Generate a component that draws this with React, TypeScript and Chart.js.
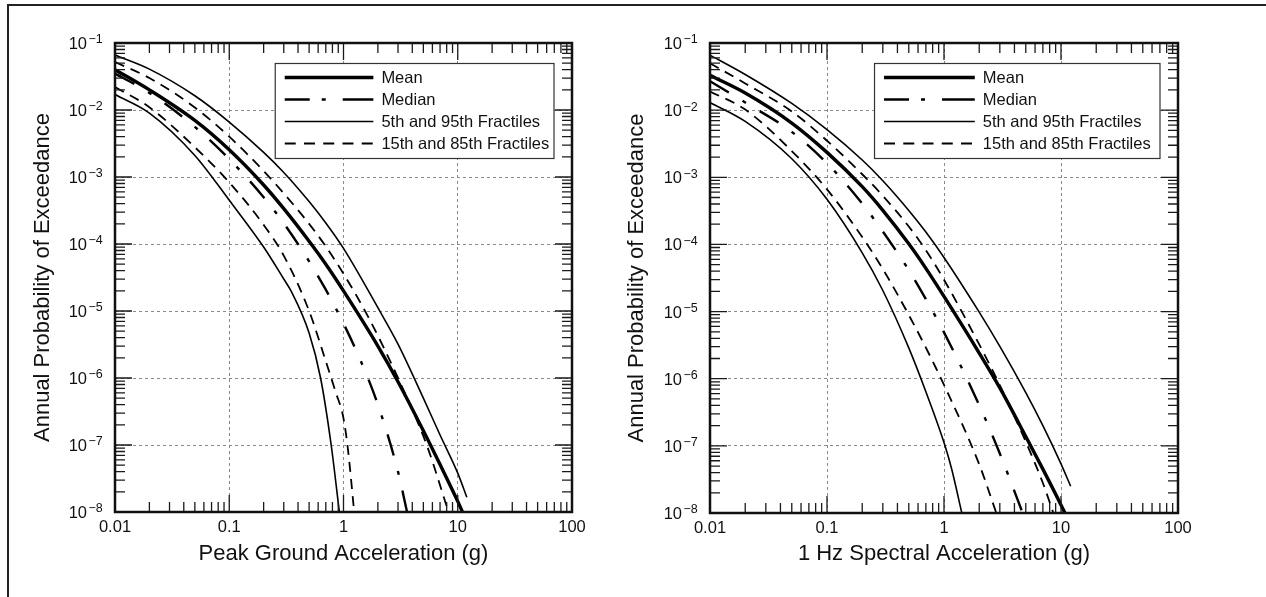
import React, { useEffect, useRef } from 'react';
import { Chart, registerables } from 'chart.js';

Chart.register(...registerables);

const FONT = '"Liberation Sans", Arial, Helvetica, sans-serif';

// ---- axes ----
const xTickValues = [0.01, 0.1, 1, 10, 100];
const xTickLabels = ['0.01', '0.1', '1', '10', '100'];
const yTickValues = [1e-8, 1e-7, 1e-6, 1e-5, 1e-4, 1e-3, 1e-2, 1e-1];
const yTickExponents = ['−8', '−7', '−6', '−5', '−4', '−3', '−2', '−1'];
const minorMultipliers = [2, 3, 4, 5, 6, 7, 8, 9];

const legendLabels = ['Mean', 'Median', '5th and 95th Fractiles', '15th and 85th Fractiles'];
const yAxisTitle = 'Annual Probability of Exceedance';
const leftXAxisTitle = 'Peak Ground Acceleration (g)';
const rightXAxisTitle = '1 Hz Spectral Acceleration (g)';

// ---- left panel: Peak Ground Acceleration ----
const pgaMeanX = [0.01, 0.02, 0.05, 0.1, 0.2, 0.3, 0.5, 0.7, 1, 2, 3, 5, 7, 10, 11];
const pgaMeanY = [4.0e-2, 2.0e-2, 7.0e-3, 2.55e-3, 7.6e-4, 3.37e-4, 1.1e-4, 5.0e-5, 2.0e-5, 3.0e-6, 8.8e-7, 1.63e-7, 5.1e-8, 1.44e-8, 1.0e-8];
const pgaMedianX = [0.01, 0.02, 0.05, 0.1, 0.2, 0.3, 0.5, 0.7, 1, 1.41, 2, 3, 3.6];
const pgaMedianY = [3.5e-2, 1.8e-2, 5.6e-3, 1.85e-3, 5.0e-4, 2.04e-4, 5.5e-5, 2.08e-5, 6.5e-6, 1.83e-6, 4.0e-7, 4.0e-8, 1.0e-8];
const pga95X = [0.01, 0.02, 0.05, 0.1, 0.2, 0.3, 0.5, 0.7, 1, 2, 3, 5, 7, 10, 12];
const pga95Y = [6.6e-2, 4.07e-2, 1.63e-2, 6.6e-3, 2.33e-3, 1.17e-3, 4.3e-4, 2.06e-4, 8.6e-5, 1.12e-5, 3.2e-6, 5.0e-7, 1.41e-7, 3.8e-8, 1.66e-8];
const pga85X = [0.01, 0.02, 0.05, 0.1, 0.2, 0.3, 0.5, 0.7, 1, 1.65, 3.0, 5.35, 8.3];
const pga85Y = [5.2e-2, 3.0e-2, 1.09e-2, 4.0e-3, 1.23e-3, 5.7e-4, 2.0e-4, 9.2e-5, 3.6e-5, 8.1e-6, 1.0e-6, 1.0e-7, 1.0e-8];
const pga15X = [0.01, 0.02, 0.05, 0.1, 0.2, 0.3, 0.5, 0.7, 0.85, 1, 1.1, 1.24];
const pga15Y = [2.2e-2, 1.1e-2, 2.78e-3, 8.3e-4, 1.93e-4, 6.7e-5, 1.0e-5, 1.78e-6, 6.3e-7, 2.5e-7, 7.9e-8, 1.0e-8];
const pga5X = [0.01, 0.02, 0.05, 0.1, 0.2, 0.3, 0.35, 0.5, 0.63, 0.78, 0.92];
const pga5Y = [1.7e-2, 9.0e-3, 2.1e-3, 4.5e-4, 9.0e-5, 3.0e-5, 1.95e-5, 4.7e-6, 1.0e-6, 1.0e-7, 1.0e-8];

// ---- right panel: 1 Hz Spectral Acceleration ----
const sa1MeanX = [0.01, 0.02, 0.05, 0.1, 0.2, 0.3, 0.5, 0.7, 1, 2, 3, 5, 7, 10, 10.8];
const sa1MeanY = [3.3e-2, 1.8e-2, 6.43e-3, 2.35e-3, 7.24e-4, 3.22e-4, 1.02e-4, 4.4e-5, 1.68e-5, 2.41e-6, 7.3e-7, 1.38e-7, 4.5e-8, 1.32e-8, 1.0e-8];
const sa1MedianX = [0.01, 0.02, 0.05, 0.1, 0.2, 0.3, 0.5, 0.7, 1, 2, 3, 4.7];
const sa1MedianY = [2.7e-2, 1.3e-2, 4.75e-3, 1.62e-3, 4.06e-4, 1.56e-4, 4.14e-5, 1.53e-5, 4.9e-6, 4.04e-7, 7.7e-8, 1.0e-8];
const sa195X = [0.01, 0.02, 0.05, 0.1, 0.2, 0.3, 0.5, 0.7, 1, 2, 3, 5, 7, 10, 12.1];
const sa195Y = [6.6e-2, 3.4e-2, 1.26e-2, 5.13e-3, 1.81e-3, 8.9e-4, 3.21e-4, 1.53e-4, 6.4e-5, 9.8e-6, 3.03e-6, 6.2e-7, 2.0e-7, 5.4e-8, 2.5e-8];
const sa185X = [0.01, 0.02, 0.05, 0.1, 0.2, 0.3, 0.5, 0.7, 1, 2, 3, 5, 7, 8.6];
const sa185Y = [5.0e-2, 2.5e-2, 9.55e-3, 3.5e-3, 1.11e-3, 5.3e-4, 1.85e-4, 8.2e-5, 2.98e-5, 3.24e-6, 8.0e-7, 1.15e-7, 2.8e-8, 1.0e-8];
const sa115X = [0.01, 0.02, 0.05, 0.1, 0.2, 0.3, 0.5, 0.7, 1, 2, 2.8];
const sa115Y = [1.9e-2, 1.02e-2, 2.46e-3, 6.6e-4, 1.29e-4, 4.3e-5, 8.9e-6, 2.9e-6, 8.1e-7, 5.3e-8, 1.0e-8];
const sa15X = [0.01, 0.02, 0.05, 0.1, 0.2, 0.3, 0.5, 0.7, 1, 1.16, 1.42];
const sa15Y = [1.3e-2, 6.8e-3, 1.89e-3, 4.7e-4, 7.5e-5, 2.06e-5, 2.88e-6, 6.4e-7, 1.12e-7, 4.6e-8, 1.0e-8];

// ---- styles ----
type StyleKey = 'mean' | 'median' | 'frac595' | 'frac1585';
const lineStyles: Record<StyleKey, { width: number; dash: number[] }> = {
  mean: { width: 3.4, dash: [] },
  median: { width: 2.4, dash: [22, 16, 4, 16] },
  frac595: { width: 1.6, dash: [] },
  frac1585: { width: 1.8, dash: [10, 7] },
};
const legendStyleKeys: StyleKey[] = ['mean', 'median', 'frac595', 'frac1585'];
const legendDashOverride: Partial<Record<StyleKey, number[]>> = {
  median: [25, 12, 4, 17, 60, 10],
  frac1585: [11, 8.25],
};

type Series = { x: number[]; y: number[]; style: StyleKey };

const leftSeries: Series[] = [
  { x: pga95X, y: pga95Y, style: 'frac595' },
  { x: pga5X, y: pga5Y, style: 'frac595' },
  { x: pga85X, y: pga85Y, style: 'frac1585' },
  { x: pga15X, y: pga15Y, style: 'frac1585' },
  { x: pgaMedianX, y: pgaMedianY, style: 'median' },
  { x: pgaMeanX, y: pgaMeanY, style: 'mean' },
];
const rightSeries: Series[] = [
  { x: sa195X, y: sa195Y, style: 'frac595' },
  { x: sa15X, y: sa15Y, style: 'frac595' },
  { x: sa185X, y: sa185Y, style: 'frac1585' },
  { x: sa115X, y: sa115Y, style: 'frac1585' },
  { x: sa1MedianX, y: sa1MedianY, style: 'median' },
  { x: sa1MeanX, y: sa1MeanY, style: 'mean' },
];

type PanelLayout = {
  canvasLeft: number;
  canvasWidth: number;
  yAxisWidth: number;
  padRight: number;
  padTop: number;
  xAxisHeight: number;
  yTitlePad: number;
};

const CANVAS_H = 597;
const INK = '#111';

const framePlugin = {
  id: 'frameTicks',
  afterDatasetsDraw(chart: any) {
    const { ctx, chartArea: a, scales } = chart;
    const xs = scales.x;
    const ys = scales.y;
    const majorLen = 17;
    const minorLen = 10;
    ctx.save();
    ctx.setLineDash([]);
    ctx.strokeStyle = '#1a1a1a';
    ctx.lineWidth = 1.3;
    ctx.beginPath();
    xTickValues.forEach((d, i) => {
      const px = xs.getPixelForValue(d);
      ctx.moveTo(px, a.bottom);
      ctx.lineTo(px, a.bottom - majorLen);
      ctx.moveTo(px, a.top);
      ctx.lineTo(px, a.top + majorLen);
      if (i < xTickValues.length - 1) {
        minorMultipliers.forEach((m) => {
          const p = xs.getPixelForValue(d * m);
          ctx.moveTo(p, a.bottom);
          ctx.lineTo(p, a.bottom - minorLen);
          ctx.moveTo(p, a.top);
          ctx.lineTo(p, a.top + minorLen);
        });
      }
    });
    yTickValues.forEach((d, i) => {
      const py = ys.getPixelForValue(d);
      ctx.moveTo(a.left, py);
      ctx.lineTo(a.left + majorLen, py);
      ctx.moveTo(a.right, py);
      ctx.lineTo(a.right - majorLen, py);
      if (i < yTickValues.length - 1) {
        minorMultipliers.forEach((m) => {
          const p = ys.getPixelForValue(d * m);
          ctx.moveTo(a.left, p);
          ctx.lineTo(a.left + minorLen, p);
          ctx.moveTo(a.right, p);
          ctx.lineTo(a.right - minorLen, p);
        });
      }
    });
    ctx.stroke();
    ctx.restore();
  },
  afterDraw(chart: any) {
    const { ctx, chartArea: a, scales } = chart;
    const ys = scales.y;
    ctx.save();
    ctx.setLineDash([]);
    ctx.strokeStyle = INK;
    ctx.lineWidth = 2.5;
    ctx.strokeRect(a.left, a.top, a.right - a.left, a.bottom - a.top);

    // legend box
    const w = (a.right - a.left) * 0.61;
    const h = 95;
    const x0 = a.right - 18 - w;
    const y0 = a.top + 20.5;
    ctx.fillStyle = '#ffffff';
    ctx.fillRect(x0, y0, w, h);
    ctx.strokeStyle = '#333';
    ctx.lineWidth = 1.2;
    ctx.strokeRect(x0, y0, w, h);
    const sampleStart = x0 + 9.5;
    const sampleLen = w * 0.318;
    legendLabels.forEach((label, i) => {
      const key = legendStyleKeys[i];
      const st = lineStyles[key];
      const ry = y0 + 14 + i * 22;
      ctx.beginPath();
      ctx.setLineDash(legendDashOverride[key] || st.dash);
      ctx.lineWidth = st.width;
      ctx.strokeStyle = '#000';
      ctx.moveTo(sampleStart, ry);
      ctx.lineTo(sampleStart + sampleLen, ry);
      ctx.stroke();
      ctx.setLineDash([]);
      ctx.fillStyle = INK;
      ctx.font = `16.5px ${FONT}`;
      ctx.textAlign = 'left';
      ctx.textBaseline = 'middle';
      ctx.fillText(label, sampleStart + sampleLen + 8, ry + 1);
    });

    // y tick labels: 10 with superscript exponent
    yTickValues.forEach((v, i) => {
      const py = ys.getPixelForValue(v);
      const xr = a.left - 28;
      ctx.fillStyle = INK;
      ctx.font = `16.5px ${FONT}`;
      ctx.textAlign = 'right';
      ctx.textBaseline = 'middle';
      ctx.fillText('10', xr, py + 1.5);
      ctx.font = `12.5px ${FONT}`;
      ctx.textAlign = 'left';
      ctx.fillText(yTickExponents[i], xr + 1.5, py - 3);
    });
    ctx.restore();
  },
};

function Panel({ series, xTitle, layout }: { series: Series[]; xTitle: string; layout: PanelLayout }) {
  const ref = useRef<HTMLCanvasElement | null>(null);
  useEffect(() => {
    if (!ref.current) return;
    const datasets = series.map((s) => ({
      data: s.x.map((x, i) => ({ x, y: s.y[i] })),
      borderColor: '#000',
      backgroundColor: '#000',
      borderWidth: lineStyles[s.style].width,
      borderDash: lineStyles[s.style].dash,
      pointRadius: 0,
      pointHoverRadius: 0,
      fill: false,
      cubicInterpolationMode: 'monotone',
    }));
    const chart = new Chart(ref.current, {
      type: 'line',
      data: { datasets },
      options: {
        animation: false,
        responsive: false,
        maintainAspectRatio: false,
        devicePixelRatio: 1,
        events: [],
        layout: { padding: { left: 0, top: layout.padTop, right: layout.padRight, bottom: 0 } },
        plugins: { legend: { display: false }, tooltip: { enabled: false }, title: { display: false } },
        scales: {
          x: {
            type: 'logarithmic',
            position: 'bottom',
            min: 0.01,
            max: 100,
            afterBuildTicks: (scale: any) => {
              scale.ticks = xTickValues.map((value) => ({ value }));
            },
            afterFit: (scale: any) => {
              scale.height = layout.xAxisHeight;
            },
            ticks: {
              autoSkip: false,
              maxRotation: 0,
              padding: 6,
              color: INK,
              font: { family: FONT, size: 16.5 },
              callback: (value: any) => {
                const idx = xTickValues.indexOf(Number(value));
                return idx >= 0 ? xTickLabels[idx] : '';
              },
            },
            grid: { color: '#8a8a8a', lineWidth: 1, drawTicks: false },
            border: { display: false, dash: [3, 3] },
            title: {
              display: true,
              text: xTitle,
              color: INK,
              font: { family: FONT, size: 22 },
              padding: { top: 0, bottom: 30 },
            },
          },
          y: {
            type: 'logarithmic',
            position: 'left',
            min: 1e-8,
            max: 1e-1,
            afterBuildTicks: (scale: any) => {
              scale.ticks = yTickValues.map((value) => ({ value }));
            },
            afterFit: (scale: any) => {
              scale.width = layout.yAxisWidth;
            },
            ticks: { display: false },
            grid: { color: '#8a8a8a', lineWidth: 1, drawTicks: false },
            border: { display: false, dash: [3, 3] },
            title: {
              display: true,
              text: yAxisTitle,
              color: INK,
              font: { family: FONT, size: 22 },
              padding: { top: layout.yTitlePad, bottom: 0 },
            },
          },
        },
      },
      plugins: [framePlugin],
    } as any);
    return () => chart.destroy();
  }, [series, xTitle, layout]);
  return (
    <canvas
      ref={ref}
      width={layout.canvasWidth}
      height={CANVAS_H}
      style={{ position: 'absolute', left: layout.canvasLeft, top: 0, width: layout.canvasWidth, height: CANVAS_H }}
    />
  );
}

const leftLayout: PanelLayout = {
  canvasLeft: 0,
  canvasWidth: 600,
  yAxisWidth: 115,
  padRight: 28,
  padTop: 43,
  xAxisHeight: 85,
  yTitlePad: 29.8,
};
const rightLayout: PanelLayout = {
  canvasLeft: 600,
  canvasWidth: 666,
  yAxisWidth: 110,
  padRight: 88,
  padTop: 43,
  xAxisHeight: 84,
  yTitlePad: 23.3,
};

export default function App() {
  return (
    <div
      style={{
        position: 'absolute',
        left: 0,
        top: 0,
        width: 1266,
        height: 597,
        overflow: 'hidden',
        background: '#ffffff',
      }}
    >
      <div
        style={{
          position: 'absolute',
          left: 7,
          top: 4,
          width: 1400,
          height: 800,
          borderLeft: '2px solid #222',
          borderTop: '2px solid #222',
        }}
      />
      <Panel series={leftSeries} xTitle={leftXAxisTitle} layout={leftLayout} />
      <Panel series={rightSeries} xTitle={rightXAxisTitle} layout={rightLayout} />
    </div>
  );
}
